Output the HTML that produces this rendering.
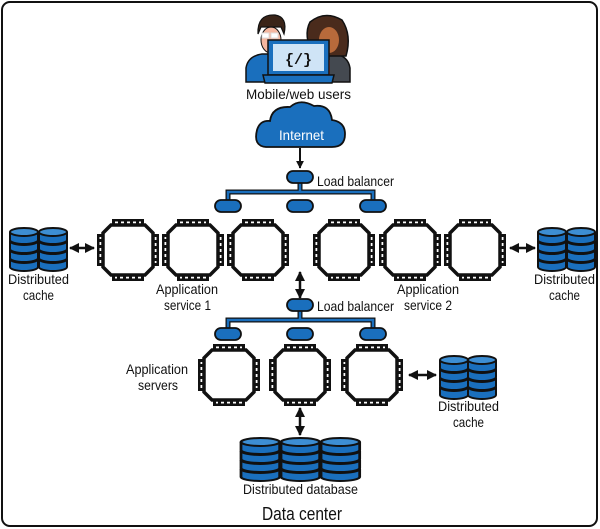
<!DOCTYPE html>
<html><head><meta charset="utf-8"><style>
html,body{margin:0;padding:0;background:#fff}
svg{display:block}
text{font-family:"Liberation Sans",sans-serif;font-size:14px;fill:#111}
</style></head><body>
<svg width="600" height="529" viewBox="0 0 600 529" xmlns="http://www.w3.org/2000/svg">
<defs>
<g id="chip">
 <path d="M-17,-25 L17,-25 L25,-17 L25,17 L17,25 L-17,25 L-25,17 L-25,-17 Z" fill="#fff" stroke="#111" stroke-width="3.5"/>
 <g id="pins" fill="#111">
  <rect x="-16" y="-31" width="32" height="2.5"/>
  <rect x="-16" y="-31" width="3" height="6"/><rect x="-10" y="-31" width="3" height="6"/><rect x="-4" y="-31" width="3" height="6"/><rect x="2" y="-31" width="3" height="6"/><rect x="8" y="-31" width="3" height="6"/><rect x="13" y="-31" width="3" height="6"/>
 </g>
 <use href="#pins" transform="rotate(90)"/>
 <use href="#pins" transform="rotate(180)"/>
 <use href="#pins" transform="rotate(270)"/>
</g>
<g id="cyl">
 <g stroke="#111" stroke-width="2" fill="#1a6fbd">
  <path d="M0,28 v8 a14,4 0 0 0 28,0 v-8"/><ellipse cx="14" cy="28" rx="14" ry="4"/>
  <path d="M0,19 v8 a14,4 0 0 0 28,0 v-8"/><ellipse cx="14" cy="19" rx="14" ry="4"/>
  <path d="M0,10 v8 a14,4 0 0 0 28,0 v-8"/><ellipse cx="14" cy="10" rx="14" ry="4"/>
  <path d="M0,1 v8 a14,4 0 0 0 28,0 v-8"/><ellipse cx="14" cy="1" rx="14" ry="4" fill="#3d8ed3"/>
 </g>
</g>
<g id="pill"><rect x="-13" y="-6" width="26" height="12" rx="6" fill="#1a6fbd" stroke="#111" stroke-width="1.8"/></g>
<marker id="ah" viewBox="0 0 10 10" refX="9" refY="5" markerWidth="4" markerHeight="4" orient="auto-start-reverse"><path d="M0,0 L10,5 L0,10 Z" fill="#111"/></marker>
</defs>

<rect x="2" y="2" width="595" height="524" rx="8" fill="#fff" stroke="#111" stroke-width="2"/>

<!-- users -->
<g>
 <path d="M302,82 L350,82 L350,68 Q348,56 335,54 L320,54 Z" fill="#444950" stroke="#111" stroke-width="1.5"/>
 <path d="M310,22 Q325,10 342,20 Q352,35 346,56 L313,56 Q303,35 310,22Z" fill="#4a2b1c" stroke="#111" stroke-width="1.5"/>
 <ellipse cx="329" cy="40" rx="10" ry="13" fill="#b86a3b"/>
 <rect x="327" y="60" width="3" height="22" fill="#e8553a"/>
 <path d="M246,82 L300,82 L300,60 Q290,54 280,54 L262,54 Q248,56 246,68 Z" fill="#1a6fbd" stroke="#111" stroke-width="1.5"/>
 <ellipse cx="271" cy="40" rx="10" ry="13" fill="#f4b7a0" stroke="#111" stroke-width="1"/>
 <path d="M258,34 Q257,14 275,15 Q288,17 284,34 L281,27 Q270,27 261,27 Z" fill="#3a2418" stroke="#111" stroke-width="1.2"/>
 <rect x="262" y="33" width="7" height="5" fill="#fff" stroke="#ddd"/><rect x="271" y="33" width="7" height="5" fill="#fff" stroke="#ddd"/>
 <rect x="268" y="40" width="61" height="35" fill="#1a6fbd" stroke="#111" stroke-width="1.5"/>
 <rect x="273" y="44" width="51" height="27" fill="#cfe4f6"/>
 <text x="298.5" y="64" text-anchor="middle" style="font-family:'Liberation Mono',monospace;font-weight:bold;font-size:15px">{/}</text>
 <path d="M263,75 L334,75 L332,83 L265,83 Z" fill="#1a6fbd" stroke="#111" stroke-width="1.5"/>
</g>
<text x="246" y="99" textLength="105" lengthAdjust="spacingAndGlyphs">Mobile/web users</text>

<!-- cloud -->
<path d="M266,147 Q253,146 257,130 Q260,120 270,121 Q272,106 290,107 Q300,98 314,106 Q330,104 332,120 Q345,122 345,134 Q345,147 332,147 Z" fill="#1a6fbd" stroke="#111" stroke-width="1.8"/>
<text x="279" y="140" textLength="45" lengthAdjust="spacingAndGlyphs" style="fill:#fff">Internet</text>
<line x1="300" y1="148" x2="300" y2="168" stroke="#111" stroke-width="2" marker-end="url(#ah)"/>

<!-- LB1 -->
<path d="M300,183 V192 M228,204 V192 H373 V204" fill="none" stroke="#111" stroke-width="5"/>
<path d="M300,183 V192 M228,204 V192 H373 V204" fill="none" stroke="#1a6fbd" stroke-width="2.5"/>
<use href="#pill" x="300" y="177"/>
<use href="#pill" x="228" y="206"/><use href="#pill" x="300" y="206"/><use href="#pill" x="373" y="206"/>
<text x="317" y="186" textLength="77" lengthAdjust="spacingAndGlyphs">Load balancer</text>

<!-- top chips -->
<use href="#chip" x="128" y="250"/><use href="#chip" x="193" y="250"/><use href="#chip" x="258" y="250"/>
<use href="#chip" x="344" y="250"/><use href="#chip" x="410" y="250"/><use href="#chip" x="475" y="250"/>
<use href="#cyl" x="10" y="231"/><use href="#cyl" x="39" y="231"/>
<use href="#cyl" x="538" y="231"/><use href="#cyl" x="567" y="231"/>
<line x1="70" y1="248" x2="94" y2="248" stroke="#111" stroke-width="2.5" marker-start="url(#ah)" marker-end="url(#ah)"/>
<line x1="510" y1="248" x2="535" y2="248" stroke="#111" stroke-width="2.5" marker-start="url(#ah)" marker-end="url(#ah)"/>
<text x="8" y="284" textLength="61" lengthAdjust="spacingAndGlyphs">Distributed</text><text x="23" y="300" textLength="31" lengthAdjust="spacingAndGlyphs">cache</text>
<text x="534" y="284" textLength="61" lengthAdjust="spacingAndGlyphs">Distributed</text><text x="549" y="300" textLength="31" lengthAdjust="spacingAndGlyphs">cache</text>
<text x="156" y="294" textLength="62" lengthAdjust="spacingAndGlyphs">Application</text><text x="164" y="310" textLength="47" lengthAdjust="spacingAndGlyphs">service 1</text>
<text x="397" y="294" textLength="62" lengthAdjust="spacingAndGlyphs">Application</text><text x="404" y="310" textLength="48" lengthAdjust="spacingAndGlyphs">service 2</text>

<!-- LB2 -->
<line x1="300" y1="272" x2="300" y2="298" stroke="#111" stroke-width="2.5" marker-start="url(#ah)" marker-end="url(#ah)"/>
<path d="M300,311 V320 M228,332 V320 H373 V332" fill="none" stroke="#111" stroke-width="5"/>
<path d="M300,311 V320 M228,332 V320 H373 V332" fill="none" stroke="#1a6fbd" stroke-width="2.5"/>
<use href="#pill" x="300" y="305"/>
<use href="#pill" x="228" y="334"/><use href="#pill" x="300" y="334"/><use href="#pill" x="373" y="334"/>
<text x="317" y="311" textLength="77" lengthAdjust="spacingAndGlyphs">Load balancer</text>

<!-- bottom chips -->
<use href="#chip" x="229" y="375"/><use href="#chip" x="300" y="375"/><use href="#chip" x="372" y="375"/>
<text x="126" y="374" textLength="62" lengthAdjust="spacingAndGlyphs">Application</text><text x="138" y="390" textLength="40" lengthAdjust="spacingAndGlyphs">servers</text>
<line x1="409" y1="375" x2="436" y2="375" stroke="#111" stroke-width="2.5" marker-start="url(#ah)" marker-end="url(#ah)"/>
<use href="#cyl" x="440" y="359"/><use href="#cyl" x="468" y="359"/>
<text x="438" y="411" textLength="61" lengthAdjust="spacingAndGlyphs">Distributed</text><text x="453" y="427" textLength="31" lengthAdjust="spacingAndGlyphs">cache</text>
<line x1="300" y1="408" x2="300" y2="435" stroke="#111" stroke-width="2.5" marker-start="url(#ah)" marker-end="url(#ah)"/>
<g transform="translate(241,441) scale(1.38,1)"><use href="#cyl" x="0" y="0"/><use href="#cyl" x="29" y="0"/><use href="#cyl" x="58" y="0"/></g>
<text x="243" y="494" textLength="115" lengthAdjust="spacingAndGlyphs">Distributed database</text>
<text x="262" y="520" textLength="80" lengthAdjust="spacingAndGlyphs" style="font-size:18px">Data center</text>
</svg>
</body></html>
